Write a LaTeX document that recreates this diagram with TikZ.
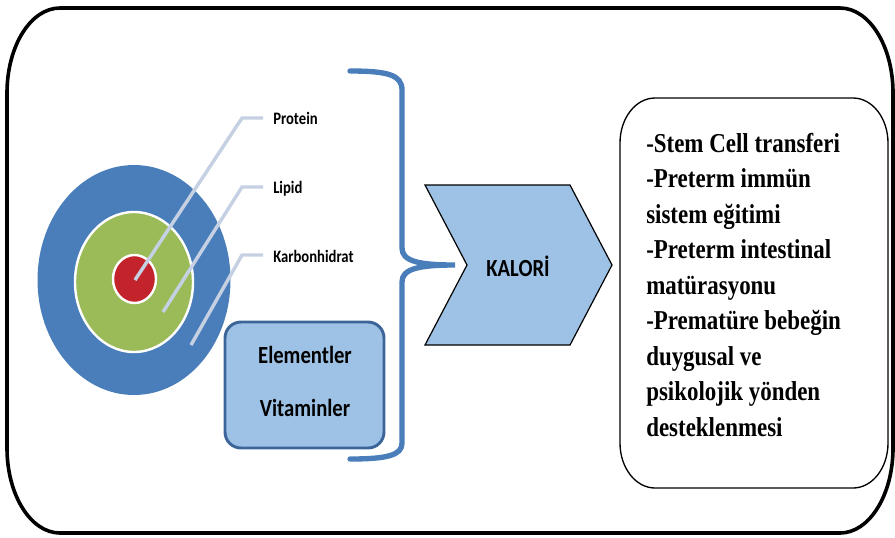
\documentclass[tikz,border=0pt]{standalone}
\usepackage{fontspec}
\usepackage{graphicx}
\setmainfont{Liberation Serif}
\newfontfamily\calibri{Carlito}
\definecolor{ringblue}{HTML}{4A7EBB}
\definecolor{ringgreen}{HTML}{9BBB59}
\definecolor{ringred}{HTML}{C3232B}
\definecolor{leadgray}{HTML}{C5D1E3}
\definecolor{boxfill}{HTML}{9EC2E5}
\definecolor{boxline}{HTML}{3B6599}
\newcommand{\tall}[1]{\scalebox{1}[1.19]{#1}}
\tikzset{
    frame/.style={line width=2.7pt, black},
    leader/.style={line width=2.6pt, leadgray},
    ringlabel/.style={anchor=base west, inner sep=0pt, font=\calibri\bfseries\fontsize{11}{13}\selectfont},
    boxlabel/.style={anchor=base, inner sep=0pt, font=\calibri\bfseries\fontsize{15.5}{18}\selectfont},
    listline/.style={anchor=base west, inner sep=0pt, font=\bfseries\fontsize{17.2}{20}\selectfont}
}
\begin{document}
\begin{tikzpicture}[x=0.75pt, y=-0.75pt]
    \useasboundingbox (0,0) rectangle (895,537);
    % outer frame
    \draw[frame]
        (60,8) -- (840,8) arc[start angle=270, end angle=360, x radius=53, y radius=85]
        -- (893,448) arc[start angle=0, end angle=90, x radius=53, y radius=85]
        -- (60,533) arc[start angle=90, end angle=180, x radius=53, y radius=85]
        -- (7,93) arc[start angle=180, end angle=270, x radius=53, y radius=85] -- cycle;
    % rings
    \fill[ringblue] (134,280) ellipse[x radius=96.5, y radius=115];
    \filldraw[fill=ringgreen, draw=white, line width=1.8pt] (134,282) ellipse[x radius=59, y radius=70];
    \filldraw[fill=ringred, draw=white, line width=1.8pt] (134.5,279) ellipse[x radius=21.5, y radius=24];
    \coordinate (pin1) at (135,280);
    \coordinate (pin2) at (163,312);
    \coordinate (pin3) at (191,345);
    % ring labels
    \node[ringlabel] (protein) at (273,124) {\tall{Protein}};
    \node[ringlabel] (lipid) at (273,193) {\tall{Lipid}};
    \node[ringlabel] (karb) at (273,262) {\tall{Karbonhidrat}};
    \draw[leader] (pin1) -- (242,118) -- ([xshift=-7.5pt]protein.west |- 0,118);
    \draw[leader] (pin2) -- (242,187) -- ([xshift=-7.5pt]lipid.west |- 0,187);
    \draw[leader] (pin3) -- (242,255) -- ([xshift=-7.5pt]karb.west |- 0,255);
    % elementler box
    \draw[fill=boxfill, draw=boxline, line width=2.2pt, rounded corners=12pt]
        (225,322) rectangle (384,448);
    \node[boxlabel] (elem) at (305,363) {\tall{Elementler}};
    \node[boxlabel] (vita) at (305,416) {\tall{Vitaminler}};
    % brace
    \draw[ringblue, line width=4pt, line cap=round]
        (350,71) .. controls (388,71) and (402,75) .. (402,90)
        -- (402,248) .. controls (402,261) and (418,265) .. (455,265)
        .. controls (418,265) and (402,269) .. (402,282)
        -- (402,443) .. controls (402,455) and (388,459) .. (350,459);
    % chevron
    \draw[fill=boxfill, draw=black, line width=0.9pt]
        (425,185) -- (570,185) -- (612,265) -- (570,345) -- (425,345) -- (467,265) -- cycle;
    \node[boxlabel] (kalori) at (518,276) {\tall{KALORİ}};
    % list box
    \draw[black, line width=1pt]
        (655,98) -- (853,98) arc[start angle=270, end angle=360, x radius=35, y radius=45]
        -- (888,443) arc[start angle=0, end angle=90, x radius=35, y radius=45]
        -- (655,488) arc[start angle=90, end angle=180, x radius=35, y radius=45]
        -- (620,143) arc[start angle=180, end angle=270, x radius=35, y radius=45] -- cycle;
    \foreach \txt [count=\i from 0] in {-Stem Cell transferi, -Preterm immün,
        sistem eğitimi, -Preterm intestinal, matürasyonu, -Prematüre bebeğin,
        duygusal ve, psikolojik yönden, desteklenmesi}
        \node[listline] (line\i) at (646,152+35.5*\i) {\tall{\txt}};
\end{tikzpicture}
\end{document}
